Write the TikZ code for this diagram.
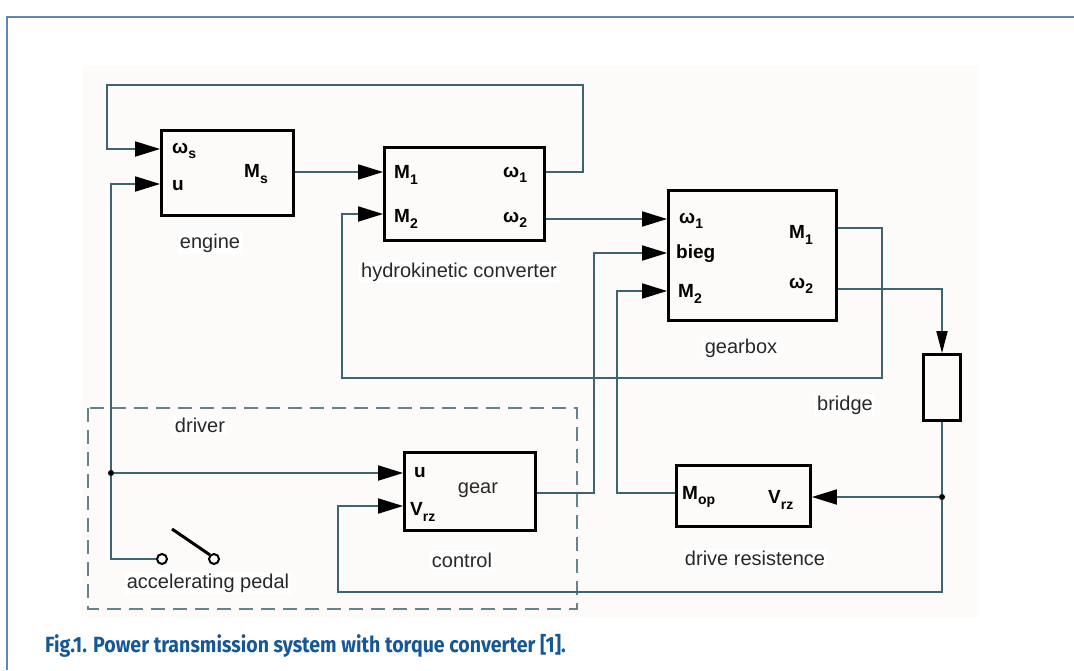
\documentclass[tikz,border=0pt]{standalone}
\usepackage{graphicx}
\usepackage{fontspec}
\setmainfont{Liberation Sans}
\newfontfamily\capfont{Fira Sans}
\usetikzlibrary{arrows.meta}
\definecolor{lncol}{RGB}{62,100,112}
\definecolor{frcol}{RGB}{95,135,180}
\definecolor{capcol}{RGB}{22,88,150}
\definecolor{bgcol}{RGB}{253,251,250}
\definecolor{txtcol}{RGB}{40,40,40}
\newcommand{\sbs}[1]{\raisebox{-0.55ex}{\fontsize{14}{14}\selectfont #1}}

\begin{document}
\begin{tikzpicture}[x=1pt, y=-1pt,
    blk/.style={draw=black, line width=2.8pt, inner sep=0pt},
    ln/.style={draw=lncol, line width=1.8pt},
    arr/.style={-{Triangle[length=25pt, width=15pt, color=black]}},
    arrs/.style={-{Triangle[length=22pt, width=11pt, color=black]}},
    port/.style={anchor=west, inner sep=0pt, font=\fontsize{19}{19}\selectfont\bfseries},
    lbl/.style={fill=white, inner sep=2pt, text=txtcol, font=\fontsize{20}{20}\selectfont},
    dot/.style={circle, fill=black, inner sep=0pt, minimum size=6pt},
    pdl/.style={circle, draw=black, line width=2pt, fill=white, inner sep=0pt, minimum size=10pt},
    dbox/.style={draw=lncol!80, line width=1.8pt, dash pattern=on 14pt off 8pt}]
    \useasboundingbox (0,0) rectangle (1074,670);
    \fill[bgcol] (82,65) rectangle (978,617);
    \draw[frcol, line width=2pt] (7,670) -- (7,17) -- (1074,17);

    \draw[dbox] (88,408) rectangle (577,609);

    \node[blk, minimum width=132pt, minimum height=85pt] (eng) at (227.5,173) {};
    \node[blk, minimum width=160pt, minimum height=93pt] (cnv) at (464.5,194) {};
    \node[blk, minimum width=168pt, minimum height=130pt] (gbx) at (752.5,255.5) {};
    \node[blk, minimum width=131pt, minimum height=78pt] (ctl) at (470,491.5) {};
    \node[blk, minimum width=134pt, minimum height=61pt] (drs) at (743.5,496) {};
    \node[blk, minimum width=37pt, minimum height=66pt] (brg) at (942,387.5) {};

    \node[port] (eng-ws) at (172,151) {ω\sbs{s}};
    \node[port] (eng-u) at (172,186) {u};
    \node[port] (eng-ms) at (244,174) {M\sbs{s}};
    \node[port] (cnv-m1) at (394,175) {M\sbs{1}};
    \node[port] (cnv-w1) at (503,175) {ω\sbs{1}};
    \node[port] (cnv-m2) at (394,219) {M\sbs{2}};
    \node[port] (cnv-w2) at (503,220) {ω\sbs{2}};
    \node[port] (gbx-w1) at (679,221) {ω\sbs{1}};
    \node[port] (gbx-bg) at (676,254) {bieg};
    \node[port] (gbx-m2) at (678,294) {M\sbs{2}};
    \node[port] (gbx-m1) at (789,235) {M\sbs{1}};
    \node[port] (gbx-w2) at (789,286) {ω\sbs{2}};
    \node[port] (ctl-u) at (414,473) {u};
    \node[port] (ctl-v) at (410,512) {V\sbs{rz}};
    \node[port] (drs-m) at (682,497) {M\sbs{op}};
    \node[port] (drs-v) at (768,500) {V\sbs{rz}};

    \node[lbl] (l-eng) at (210,243) {engine};
    \node[lbl] (l-cnv) at (459,272) {hydrokinetic converter};
    \node[lbl] (l-gbx) at (741,348) {gearbox};
    \node[lbl] (l-brg) at (845,405) {bridge};
    \node[lbl] (l-drv) at (200,425) {driver};
    \node[lbl, fill=none] (l-gear) at (478,490) {gear};
    \node[lbl] (l-ctl) at (462,560) {control};
    \node[lbl] (l-acc) at (208,583) {accelerating pedal};
    \node[lbl] (l-drs) at (755,558) {drive resistence};

    \node[dot] (j1) at (111,473) {};
    \node[dot] (j2) at (942,497) {};
    \node[pdl] (p1) at (162,559) {};
    \node[pdl] (p2) at (214,559) {};
    \coordinate (lev) at (172,529);

    \draw[ln, arr] (cnv.east |- 0,172) -| (583,85) -| (107,149) -- (eng.west |- 0,149);
    \draw[ln, arr] (eng.east |- 0,172) -- (cnv.west |- 0,172);
    \draw[ln, arr] (j1) |- (eng.west |- 0,184);
    \draw[ln, arr] (j1) -- (ctl.west |- 0,473);
    \draw[ln] (j1) |- (p1);
    \draw[black, line width=3pt] (lev) -- (p2.135);
    \draw[ln, arr] (ctl.east |- 0,493) -| (594,253) -- (gbx.west |- 0,253);
    \draw[ln, arr] (cnv.east |- 0,219) -- (gbx.west |- 0,219);
    \draw[ln, arr] (gbx.east |- 0,228) -| (882,378) -| (342,214) -- (cnv.west |- 0,214);
    \draw[ln, arrs] (gbx.east |- 0,289) -| (brg.north);
    \draw[ln] (brg.south) -- (j2);
    \draw[ln, arr] (j2) |- (338,592) |- (ctl.west |- 0,506);
    \draw[ln, arr] (j2) -- (drs.east |- 0,497);
    \draw[ln, arr] (drs.west |- 0,493) -| (617,291) -- (gbx.west |- 0,291);

    \node[anchor=west, inner sep=0pt, text=capcol] (cap) at (45,646)
        {\capfont\bfseries\fontsize{22}{22}\selectfont\scalebox{0.89}[1]{Fig.1. Power transmission system with torque converter [1].}};
\end{tikzpicture}
\end{document}
